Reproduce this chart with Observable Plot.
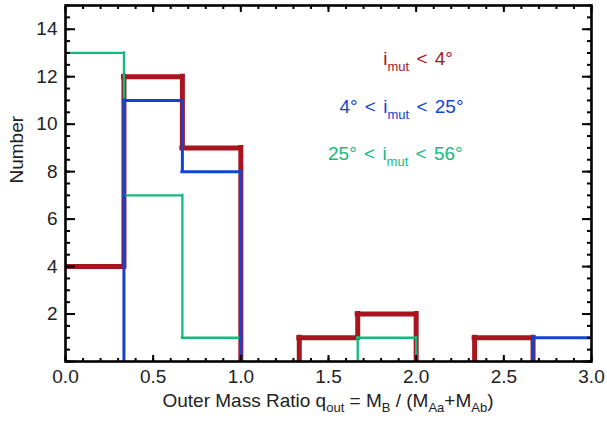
<!DOCTYPE html>
<html>
<head>
<meta charset="utf-8">
<script src="https://cdn.jsdelivr.net/npm/d3@7"></script>
<script src="https://cdn.jsdelivr.net/npm/@observablehq/plot@0.6"></script>
<style>
  html, body { margin: 0; padding: 0; background: #fff; }
  #chart { width: 607px; height: 422px; }
  svg { font-family: "Liberation Sans", Arial, sans-serif; }
</style>
</head>
<body>
<div id="chart"></div>
<script>
// ---- data ----
const binEdges = [0, 1/3, 2/3, 1, 4/3, 5/3, 2, 7/3, 8/3, 3];
const countsLow = [4, 12, 9, 0, 1, 2, 0, 1, 0];    // i_mut < 4°
const countsMid = [0, 11, 8, 0, 0, 0, 0, 0, 1];    // 4° < i_mut < 25°
const countsHigh = [13, 7, 1, 0, 0, 1, 0, 0, 0];   // 25° < i_mut < 56°
const xMajorTicks = [0, 0.5, 1, 1.5, 2, 2.5, 3];
const yMajorTicks = [0, 2, 4, 6, 8, 10, 12, 14];
const yLabelTicks = [2, 4, 6, 8, 10, 12, 14];
const seriesNames = ["low", "mid", "high"];
const legendMain = [["i", "mut", " < 4°"], ["4° < i", "mut", " < 25°"], ["25° < i", "mut", " < 56°"]];

// ---- styles / layout ----
const colors = {low: "#a8151f", mid: "#1244d2", high: "#12bb7c"};
const widths = {low: 5, mid: 3, high: 2.3};
const legendPos = [[1.815, 12.48], [1.565, 10.46], [1.50, 8.48]];
const xMinorTicks = d3.range(0, 3.0001, 0.1).map(v => +v.toFixed(2));
const yMinorTicks = d3.range(0, 15.0001, 0.5);
const W = 607, H = 422, mL = 65, mR = 16, mT = 5, mB = 61;
const textColor = "#222";
const fs = 19;

function segments(counts) {
  const h = [], v = [];
  counts.forEach((c, i) => { if (c > 0) h.push({x1: binEdges[i], x2: binEdges[i + 1], y: c}); });
  for (let i = 1; i < counts.length; i++) {
    if (counts[i - 1] !== counts[i]) v.push({x: binEdges[i], y1: counts[i - 1], y2: counts[i]});
  }
  return {h, v};
}
const seriesCounts = {low: countsLow, mid: countsMid, high: countsHigh};
const drawOrder = ["low", "high", "mid"];
const lineMarks = [];
for (const s of drawOrder) {
  const {h, v} = segments(seriesCounts[s]);
  const st = {stroke: colors[s], strokeWidth: widths[s], strokeLinecap: "square", clip: true};
  lineMarks.push(Plot.ruleY(h, {x1: "x1", x2: "x2", y: "y", ...st}));
  lineMarks.push(Plot.ruleX(v, {x: "x", y1: "y1", y2: "y2", ...st}));
}

const plot = Plot.plot({
  width: W, height: H,
  marginLeft: mL, marginRight: mR, marginTop: mT, marginBottom: mB,
  style: {fontFamily: '"Liberation Sans", Arial, sans-serif', fontSize: fs + "px", color: textColor, background: "#fff"},
  x: {domain: [0, 3]},
  y: {domain: [0, 15]},
  marks: [
    ...lineMarks,
    // ticks (inward)
    Plot.axisX(xMajorTicks, {anchor: "bottom", tickSize: -6, strokeWidth: 2, stroke: "#000", tickFormat: () => ""}),
    Plot.axisX(xMajorTicks, {anchor: "top", tickSize: -6, strokeWidth: 2, stroke: "#000", tickFormat: () => ""}),
    Plot.axisX(xMinorTicks, {anchor: "bottom", tickSize: -3, strokeWidth: 2, stroke: "#000", tickFormat: () => ""}),
    Plot.axisX(xMinorTicks, {anchor: "top", tickSize: -3, strokeWidth: 2, stroke: "#000", tickFormat: () => ""}),
    Plot.axisY(yMajorTicks, {anchor: "left", tickSize: -10, strokeWidth: 2, stroke: "#000", tickFormat: () => ""}),
    Plot.axisY(yMajorTicks, {anchor: "right", tickSize: -10, strokeWidth: 2, stroke: "#000", tickFormat: () => ""}),
    Plot.axisY(yMinorTicks, {anchor: "left", tickSize: -5, strokeWidth: 2, stroke: "#000", tickFormat: () => ""}),
    Plot.axisY(yMinorTicks, {anchor: "right", tickSize: -5, strokeWidth: 2, stroke: "#000", tickFormat: () => ""}),
    // labels
    Plot.axisX(xMajorTicks, {anchor: "bottom", tickSize: 0, tickPadding: 8, tickFormat: d3.format(".1f"), fill: textColor, label: null}),
    Plot.axisY(yLabelTicks, {anchor: "left", tickSize: 0, tickPadding: 8, tickFormat: d => String(d), fill: textColor, label: null}),
    Plot.frame({stroke: "#000", strokeWidth: 2.6}),
    Plot.text(["Number"], {frameAnchor: "left", rotate: -90, dx: -49, fill: textColor, fontSize: fs})
  ]
});
document.getElementById("chart").appendChild(plot);

const svg = d3.select(plot);
const xs = plot.scale("x"), ys = plot.scale("y");

// x-axis title with subscripts
const xt = svg.append("text")
  .attr("x", xs.apply(1.5)).attr("y", H - mB + 46)
  .attr("text-anchor", "middle").attr("fill", textColor)
  .style("font-size", fs + "px");
const xParts = [["Outer Mass Ratio q", 0], ["out", 1], [" = M", 0], ["B", 1], [" / (M", 0], ["Aa", 1], ["+M", 0], ["Ab", 1], [")", 0]];
let sub = false;
for (const [t, isSub] of xParts) {
  const ts = xt.append("tspan").text(t).attr("xml:space", "preserve");
  if (isSub && !sub) { ts.attr("dy", 5).style("font-size", "13px"); sub = true; }
  else if (!isSub && sub) { ts.attr("dy", -5); sub = false; }
  else if (isSub) ts.style("font-size", "13px");
}

// legend
seriesNames.forEach((s, i) => {
  const [a, b, c] = legendMain[i];
  const t = svg.append("text")
    .attr("x", xs.apply(legendPos[i][0])).attr("y", ys.apply(legendPos[i][1]))
    .attr("text-anchor", "start")
    .style("word-spacing", "2px")
    .attr("fill", colors[s]).style("font-size", fs + "px").attr("xml:space", "preserve");
  t.append("tspan").text(a);
  t.append("tspan").text(b).attr("dy", 6).style("font-size", "13px");
  t.append("tspan").text(c).attr("dy", -6);
});
</script>
</body>
</html>
